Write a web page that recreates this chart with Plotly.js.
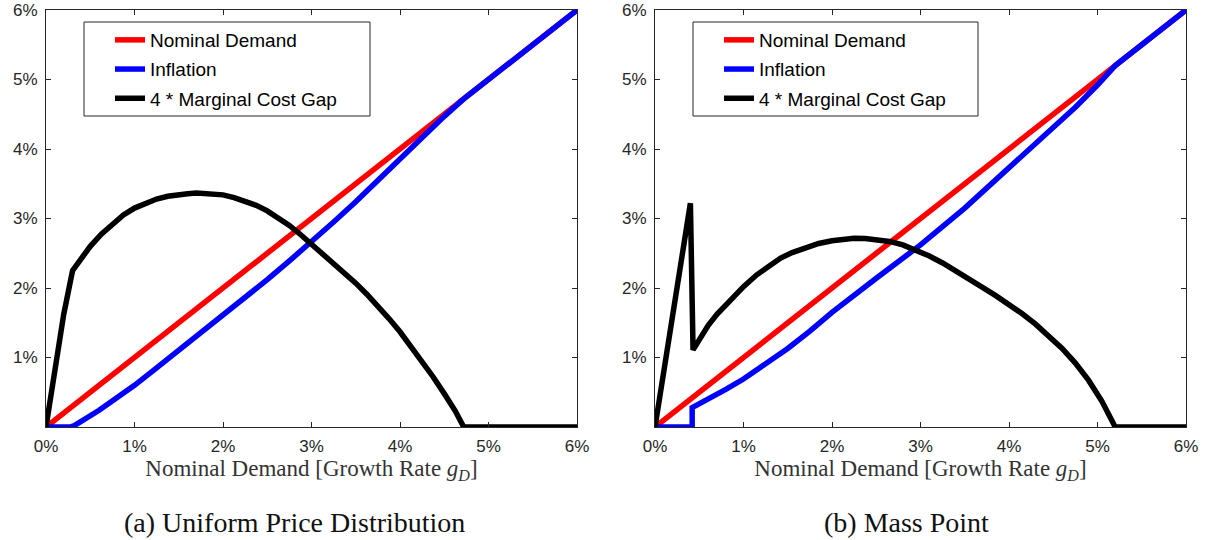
<!DOCTYPE html>
<html>
<head>
<meta charset="utf-8">
<script src="https://cdn.plot.ly/plotly-3.0.1.min.js"></script>
<style>html,body{margin:0;padding:0;background:#fff;}#chart{width:1208px;height:540px;}</style>
</head>
<body>
<div id="chart"></div>
<script>
// ---- Data (values in percent) ----
const seriesNames = ["Nominal Demand", "Inflation", "4 * Marginal Cost Gap"];
const xTicks = [0, 1, 2, 3, 4, 5, 6];
const yTicks = [1, 2, 3, 4, 5, 6];

// Panel (a) Uniform Price Distribution
const demandX_A = [0, 6];
const demandY_A = [0, 6];
const inflX_A = [0, 0.27, 0.32, 0.4, 0.5, 0.6, 0.8, 1, 1.25, 1.5, 1.75, 2, 2.25, 2.5, 2.75, 3, 3.25, 3.5, 3.75, 4, 4.25, 4.5, 4.72, 5, 5.5, 6];
const inflY_A = [0, 0, 0.02, 0.08, 0.16, 0.24, 0.42, 0.6, 0.85, 1.1, 1.35, 1.6, 1.86, 2.12, 2.39, 2.66, 2.95, 3.24, 3.55, 3.86, 4.17, 4.47, 4.72, 5, 5.5, 6];
const mcX_A = [0, 0.1, 0.2, 0.3, 0.4, 0.5, 0.625, 0.75, 0.875, 1, 1.125, 1.25, 1.375, 1.5, 1.6, 1.7, 1.85, 2, 2.125, 2.25, 2.375, 2.5, 2.625, 2.75, 2.875, 3, 3.125, 3.25, 3.375, 3.5, 3.625, 3.75, 3.875, 4, 4.125, 4.25, 4.375, 4.5, 4.625, 4.72, 5, 5.5, 6];
const mcY_A = [0, 0.8, 1.62, 2.25, 2.44, 2.6, 2.775, 2.925, 3.05, 3.15, 3.225, 3.28, 3.32, 3.345, 3.357, 3.365, 3.36, 3.34, 3.3, 3.25, 3.19, 3.11, 3.01, 2.9, 2.77, 2.63, 2.5, 2.36, 2.22, 2.07, 1.91, 1.74, 1.56, 1.37, 1.16, 0.95, 0.72, 0.48, 0.23, 0, 0, 0, 0];

// Panel (b) Mass Point
const demandX_B = [0, 6];
const demandY_B = [0, 6];
const inflX_B = [0, 0.42, 0.42, 0.6, 0.8, 1, 1.25, 1.5, 1.75, 2, 2.5, 3, 3.5, 4, 4.5, 4.75, 5, 5.2, 5.5, 6];
const inflY_B = [0, 0, 0.28, 0.4, 0.54, 0.69, 0.9, 1.13, 1.38, 1.65, 2.14, 2.62, 3.15, 3.72, 4.3, 4.6, 4.92, 5.2, 5.5, 6];
const mcX_B = [0, 0.4, 0.43, 0.5, 0.6, 0.7, 0.85, 1, 1.15, 1.3, 1.42, 1.55, 1.7, 1.85, 2, 2.125, 2.25, 2.375, 2.5, 2.65, 2.8, 2.95, 3.1, 3.25, 3.4, 3.55, 3.7, 3.85, 4, 4.15, 4.3, 4.45, 4.6, 4.75, 4.9, 5.05, 5.2, 5.5, 6];
const mcY_B = [0, 3.22, 1.11, 1.27, 1.46, 1.62, 1.83, 2.02, 2.19, 2.33, 2.43, 2.51, 2.58, 2.64, 2.68, 2.705, 2.715, 2.712, 2.7, 2.67, 2.62, 2.55, 2.46, 2.36, 2.25, 2.14, 2.01, 1.89, 1.77, 1.63, 1.48, 1.31, 1.13, 0.92, 0.67, 0.37, 0, 0, 0];

const captions = ["(a) Uniform Price Distribution", "(b) Mass Point"];
const xTitle = "Nominal Demand [Growth Rate <i>g</i><sub><i>D</i></sub>]";

// ---- Styles ----
const colors = ["#ff0000", "#0000ff", "#000000"];
const LW = 5.5;
const axisCol = "#262626";
const sans = "Liberation Sans, Arial, sans-serif";
const serif = "Liberation Serif, Times New Roman, serif";

function mk(x, y, i, xa, ya, lg) {
  return {
    x: x, y: y, type: "scatter", mode: "lines",
    name: seriesNames[i],
    line: {color: colors[i], width: LW, shape: "linear"},
    xaxis: xa, yaxis: ya, legend: lg, legendgroup: lg + i,
    hoverinfo: "skip"
  };
}

const traces = [
  mk(demandX_A, demandY_A, 0, "x", "y", "legend"),
  mk(inflX_A, inflY_A, 1, "x", "y", "legend"),
  mk(mcX_A, mcY_A, 2, "x", "y", "legend"),
  mk(demandX_B, demandY_B, 0, "x2", "y2", "legend2"),
  mk(inflX_B, inflY_B, 1, "x2", "y2", "legend2"),
  mk(mcX_B, mcY_B, 2, "x2", "y2", "legend2")
];

function xax(domain, anchor) {
  return {
    domain: domain, anchor: anchor, range: [0, 6],
    tickvals: xTicks, ticktext: xTicks.map(v => v + "%"),
    ticks: "inside", ticklen: 5, tickwidth: 1, tickcolor: axisCol,
    showline: true, linecolor: axisCol, linewidth: 1, mirror: "ticks",
    showgrid: false, zeroline: false,
    tickfont: {family: sans, size: 17, color: axisCol},
    ticklabelstandoff: 4,
    title: {text: xTitle, font: {family: serif, size: 23, color: "#333333"}, standoff: 3},
    fixedrange: true
  };
}
function yax(anchor) {
  return {
    domain: [113/540, 530/540], anchor: anchor, range: [0, 6],
    tickvals: yTicks, ticktext: yTicks.map(v => v + "%"),
    ticks: "inside", ticklen: 5, tickwidth: 1, tickcolor: axisCol,
    showline: true, linecolor: axisCol, linewidth: 1, mirror: "ticks",
    showgrid: false, zeroline: false,
    tickfont: {family: sans, size: 17, color: axisCol},
    ticklabelstandoff: 4,
    fixedrange: true
  };
}
function leg(x) {
  return {
    x: x, y: 519/540, xref: "paper", yref: "paper", xanchor: "left", yanchor: "top",
    bgcolor: "rgba(0,0,0,0)", borderwidth: 0,
    font: {family: sans, size: 19, color: "#000000"},
    traceorder: "grouped", tracegroupgap: 1.5,
    itemwidth: 30
  };
}
// legend frame (decoration): paper-pixel boxes
function frame(x0, x1) {
  return {type: "rect", xref: "paper", yref: "paper", layer: "above",
    x0: x0/1208, x1: x1/1208, y0: (540-116)/540, y1: (540-22)/540,
    line: {color: axisCol, width: 1}, fillcolor: "#ffffff"};
}

const layout = {
  width: 1208, height: 540,
  margin: {l: 0, r: 0, t: 0, b: 0},
  paper_bgcolor: "#ffffff", plot_bgcolor: "#ffffff",
  showlegend: true,
  xaxis: xax([46/1208, 577/1208], "y"),
  yaxis: yax("x"),
  xaxis2: xax([655/1208, 1186/1208], "y2"),
  yaxis2: yax("x2"),
  legend: leg(110/1208),
  legend2: leg(719/1208),
  shapes: [frame(84, 370), frame(693, 978)],
  annotations: [
    {text: captions[0], x: 294/1208, y: 18/540, xref: "paper", yref: "paper",
     xanchor: "center", yanchor: "middle", showarrow: false,
     font: {family: serif, size: 28, color: "#111111"}},
    {text: captions[1], x: 906/1208, y: 18/540, xref: "paper", yref: "paper",
     xanchor: "center", yanchor: "middle", showarrow: false,
     font: {family: serif, size: 28, color: "#111111"}}
  ]
};

Plotly.newPlot("chart", traces, layout, {staticPlot: true, displayModeBar: false});
</script>
</body>
</html>
